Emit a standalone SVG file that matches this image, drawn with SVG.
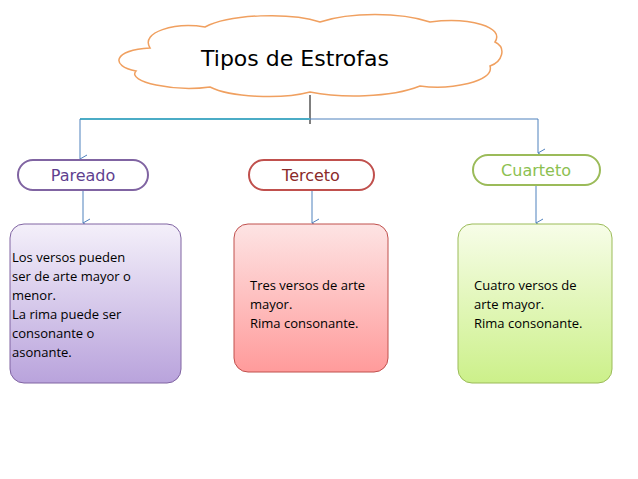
<svg xmlns="http://www.w3.org/2000/svg" width="638" height="479" viewBox="0 0 638 479">
<defs>
<marker id="ar" markerWidth="10" markerHeight="10" refX="5" refY="8" orient="auto" markerUnits="userSpaceOnUse"><path d="M1,1 L5,8 L9,1" fill="none" stroke="#4f81bd" stroke-width="1"/></marker>
<linearGradient id="gp" x1="0" y1="0" x2="0" y2="1"><stop offset="0" stop-color="#f4f0fa"/><stop offset="1" stop-color="#b9a3dc"/></linearGradient>
<linearGradient id="gr" x1="0" y1="0" x2="0" y2="1"><stop offset="0" stop-color="#fde4e4"/><stop offset="1" stop-color="#ff9b9b"/></linearGradient>
<linearGradient id="gg" x1="0" y1="0" x2="0" y2="1"><stop offset="0" stop-color="#f7fde8"/><stop offset="1" stop-color="#ccf08a"/></linearGradient>
</defs>
<style>
.pill{fill:#fff;stroke-width:2}
.pt{font-family:"DejaVu Sans",sans-serif;font-size:16px;text-anchor:middle}
.bt{font-family:"Open Sans","Liberation Sans",sans-serif;font-size:13px;fill:#000}
.c{fill:none;stroke:#4f81bd;stroke-width:1}
</style>
<rect width="638" height="479" fill="#fff"/>
<g id="cloud">
<path d="M150,48 C140,32 175,22 205,27 C230,14 290,12 320,22 C350,12 400,12 430,22 C470,17 505,27 495,42 C507,48 502,62 490,66 C495,82 450,90 420,86 C390,98 340,98 310,92 C280,100 230,97 210,87 C175,92 126,82 136,71 C110,66 113,50 150,48 Z" fill="#fff" stroke="#f0a060" stroke-width="1.5"/>
<text x="295" y="66" class="pt" style="font-size:22px" fill="#000">Tipos de Estrofas</text>
</g>
<g id="connectors">
<path d="M310,95 V124" stroke="#000" stroke-width="1" fill="none"/>
<path d="M80,119 H310" stroke="#4bacc6" stroke-width="2" fill="none"/>
<path d="M310,119 H538 V153" class="c" marker-end="url(#ar)"/>
<path d="M80,119 V159" class="c" marker-end="url(#ar)"/>
<path d="M83,190 V223" class="c" marker-end="url(#ar)"/>
<path d="M312,190 V223" class="c" marker-end="url(#ar)"/>
<path d="M536,185 V223" class="c" marker-end="url(#ar)"/>
</g>
<g id="pareado"><rect x="18" y="160" width="130" height="30" rx="15" class="pill" stroke="#8064a2"/><text x="83" y="181" class="pt" fill="#5f3f8f">Pareado</text></g>
<g id="terceto"><rect x="249" y="160" width="125" height="30" rx="15" class="pill" stroke="#c0504d"/><text x="311" y="181" class="pt" fill="#8b2a2a">Terceto</text></g>
<g id="cuarteto"><rect x="473" y="155" width="127" height="30" rx="15" class="pill" stroke="#9bbb59"/><text x="536" y="176" class="pt" fill="#8cc050">Cuarteto</text></g>
<g id="box1"><rect x="10" y="224" width="171" height="159" rx="14" fill="url(#gp)" stroke="#8064a2" stroke-width="1"/>
<text class="bt"><tspan x="12" y="262">Los versos pueden</tspan><tspan x="12" y="281">ser de arte mayor o</tspan><tspan x="12" y="300">menor.</tspan><tspan x="12" y="319">La rima puede ser</tspan><tspan x="12" y="338">consonante o</tspan><tspan x="12" y="357">asonante.</tspan></text></g>
<g id="box2"><rect x="234" y="224" width="154" height="148" rx="14" fill="url(#gr)" stroke="#c0504d" stroke-width="1"/>
<text class="bt"><tspan x="250" y="290">Tres versos de arte</tspan><tspan x="250" y="309">mayor.</tspan><tspan x="250" y="328">Rima consonante.</tspan></text></g>
<g id="box3"><rect x="458" y="224" width="154" height="159" rx="14" fill="url(#gg)" stroke="#9bbb59" stroke-width="1"/>
<text class="bt"><tspan x="474" y="290">Cuatro versos de</tspan><tspan x="474" y="309">arte mayor.</tspan><tspan x="474" y="328">Rima consonante.</tspan></text></g>
</svg>
